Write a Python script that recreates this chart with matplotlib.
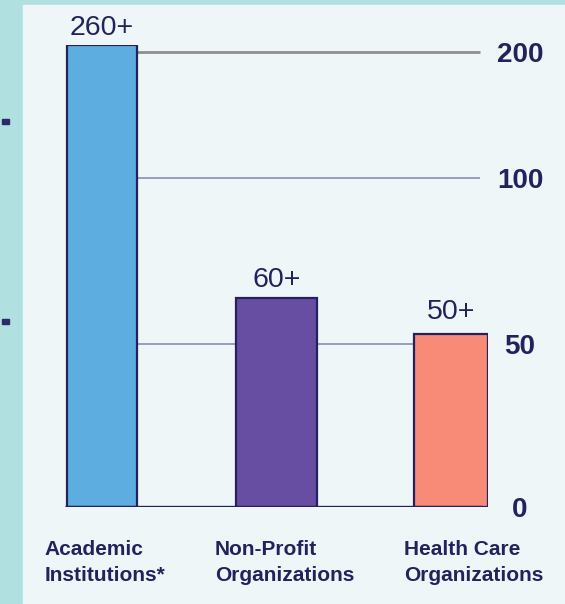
import numpy as np
import matplotlib.pyplot as plt
from matplotlib.patches import Rectangle

plt.rcParams['font.family'] = ['Liberation Sans', 'DejaVu Sans']

# data
categories = ['Academic\nInstitutions*', 'Non-Profit\nOrganizations', 'Health Care\nOrganizations']
values = [260, 64, 53]
value_labels = ['260+', '60+', '50+']
bar_colors = ['#5eade0', '#674ea3', '#f78b77']
tick_vals = [0, 50, 100, 200]

# the original axis is not linear: each step gets its own height
scale_vals = [0, 50, 100, 200, 260]
scale_pos = [0, 163, 329, 455, 462]

def fwd(v):
    return np.interp(v, scale_vals, scale_pos)

def inv(p):
    return np.interp(p, scale_pos, scale_vals)

navy = '#25215c'
W, H = 565, 604
fig = plt.figure(figsize=(W / 100, H / 100), dpi=100, facecolor='#b1e0e1')

# light panel and the two stray bullets on the left
fig.patches.append(Rectangle((23 / W, 0), 1, (H - 5) / H, transform=fig.transFigure,
                             color='#eef6f8', zorder=-5))
for yb in [121, 321]:
    fig.patches.append(Rectangle((2 / W, (H - yb - 2.5) / H), 7 / W, 5 / H,
                                 transform=fig.transFigure, color='#2b2a6a', zorder=-4))

ax = fig.add_axes([23 / W, 97 / H, 465 / W, 462 / H])
ax.set_facecolor('none')
ax.set_yscale('function', functions=(fwd, inv))
ax.set_ylim(0, 260)
ax.set_xlim(-0.4527, 2.212)

x = np.arange(len(categories))
widths = [0.40, 0.46, 0.42]
label_shift = [-0.327, -0.352, -0.269]
value_pad = [7.5, 7.5, 10.5]

# grid lines, they start at the right edge of the first bar
ax.hlines(200, widths[0] / 2, 2.166, color='#8e8e8e', lw=2.0, zorder=1)
ax.hlines([50, 100], widths[0] / 2, 2.166, color='#878db3', lw=1.2, zorder=1)

ax.bar(x, values, width=widths, color=bar_colors, edgecolor=navy, linewidth=1.6, zorder=2)
ax.hlines(0, -0.21, 2.18, color=navy, lw=2.4, zorder=3)

for xi, v, lab, p in zip(x, values, value_labels, value_pad):
    ax.annotate(lab, (xi, v), xytext=(0, p), textcoords='offset points',
                ha='center', va='baseline', fontsize=20.5, color=navy,
                annotation_clip=False)

for xi, lab, s in zip(x, categories, label_shift):
    ax.text(xi + s, -0.071, lab, transform=ax.get_xaxis_transform(),
            ha='left', va='top', fontsize=15, fontweight='bold', color=navy,
            linespacing=1.45)

ax.yaxis.tick_right()
ax.set_yticks(tick_vals)
ax.set_yticklabels([str(t) for t in tick_vals], fontsize=20, fontweight='bold',
                   color=navy, ha='center')
ax.tick_params(axis='y', length=0, pad=23)
ax.set_xticks([])
for s in ax.spines.values():
    s.set_visible(False)

fig.savefig('out.png', dpi=100, facecolor=fig.get_facecolor())
